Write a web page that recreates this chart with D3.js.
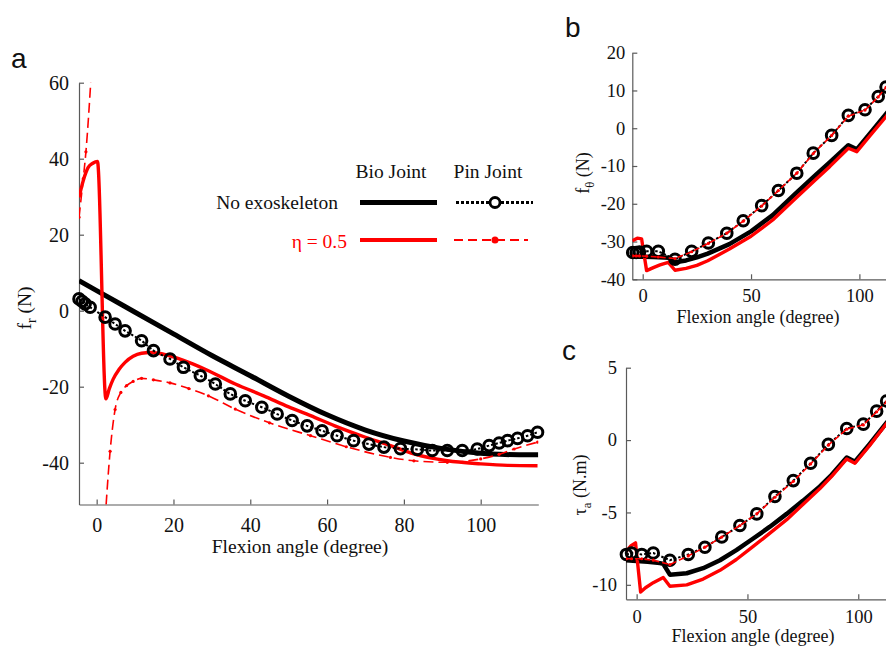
<!DOCTYPE html>
<html><head><meta charset="utf-8">
<script src="https://cdn.jsdelivr.net/npm/d3@7"></script>
<style>
body{margin:0;background:#fff}svg{display:block}
.serif{font-family:"Liberation Serif","DejaVu Serif","Noto Serif","Times New Roman",Times,serif}
.sans{font-family:"Liberation Sans",Arial,"DejaVu Sans",sans-serif}
</style>
</head><body><svg id="c" width="886" height="647"></svg>
<script>
// ---------- Panel a : f_r (N) ----------
const aTicksX = [0, 20, 40, 60, 80, 100];
const aTicksY = [-40, -20, 0, 20, 40, 60];
const aBioNoExoX = [-4.6, 0, 10, 20, 30, 40, 50, 60, 70, 80, 90, 100, 105, 110, 115];
const aBioNoExoY = [7.9, 5.3, -0.4, -6.1, -11.8, -17.1, -22.5, -27.4, -31.4, -34.3, -36.3, -37.5, -37.8, -37.9, -37.9];
const aPinNoExoX = [-4.6, -3.8, -3, -1.7, 2.2, 4.8, 7.4, 11.7, 14.8, 19.1, 22.6, 27, 30.9, 34.8, 38.7, 43, 47, 50.9, 54.8, 58.7, 62.6, 66.9, 70.9, 74.8, 79.1, 83.5, 87.4, 91.3, 95.2, 99.1, 102.2, 104.8, 107, 109.6, 112.2, 114.8];
const aPinNoExoY = [3.1, 2.5, 1.8, 0.9, -1.7, -3.5, -5.3, -7.9, -10.5, -12.7, -14.9, -17.1, -19.3, -21.9, -23.7, -25.4, -27.2, -28.9, -30.3, -31.6, -32.9, -34.2, -35.1, -35.9, -36.3, -36.5, -36.8, -36.8, -36.8, -36.4, -35.5, -34.8, -34.2, -33.6, -32.9, -32];
const aBioEtaX = [-4.6, -3.5, -2.2, -1, 0.2, 2.4, 3.3, 4.3, 5.8, 7.4, 9.5, 11.7, 14, 16.1, 20.4, 25, 29.1, 36.1, 43.5, 50, 55.7, 62, 70, 76.5, 82.6, 91.3, 100, 107, 114.8];
const aBioEtaY = [29.8, 34.2, 37.7, 38.8, 39.3, -23.2, -20.5, -18, -15.5, -13.6, -12, -11.2, -11, -11.2, -12.3, -14, -15.8, -19.3, -22.4, -25.3, -27.6, -30.3, -33.3, -35.5, -37.7, -39.5, -40.3, -40.7, -40.8];
const aPinEtaX = [-4.6, -3.5, -2.8, -1.4, 0.5, 2.2, 3.5, 4.8, 6.3, 7.8, 9.5, 11.7, 14.8, 19.1, 24, 29.1, 36.1, 45, 55.7, 65, 76.5, 82.6, 91.3, 100, 104.8, 108.7, 114.8];
const aPinEtaY = [24.6, 34.7, 41.8, 62.4, null, -55, -37, -26, -21.5, -19.7, -18.6, -17.8, -18.2, -19, -20.5, -22.4, -25.9, -29.5, -32.9, -35.8, -38.6, -39.5, -39.9, -39, -37.8, -36.4, -34.6];

// ---------- Panel b : f_theta (N) ----------
const bTicksX = [0, 50, 100];
const bTicksY = [-40, -30, -20, -10, 0, 10, 20];
const bBioNoExoX = [-4.8, 0, 5, 10, 12, 14.9, 20, 25, 30, 40, 50, 60, 70, 80, 86.4, 94.9, 98.8, 105, 112.3, 115];
const bBioNoExoY = [-34, -34, -34.1, -34.2, -34.3, -35.5, -35, -34.2, -33.2, -30.7, -27.3, -23, -17.6, -12.3, -9, -4.5, -5.6, -1.3, 3.8, 5.7];
const bBioEtaX = [-4.8, -2.5, -0.5, 1.8, 4.9, 8, 11.8, 14.9, 20, 25, 30, 40, 50, 60, 70, 80, 86.4, 94.9, 98.8, 105, 112.3, 115];
const bBioEtaY = [-29.8, -29.1, -29.3, -37.7, -36.9, -36.2, -35.5, -37.6, -37.1, -36.3, -35.1, -32, -28.6, -24.3, -18.9, -13.5, -10.1, -5.3, -6.2, -1.9, 3.1, 5.2];
const bPinNoExoX = [-4.6, -3, -1.5, 1.8, 7.2, 14.9, 22.6, 30.3, 38.8, 46.4, 54.9, 62.6, 71.1, 78.7, 87.2, 94.9, 102.6, 108.7, 112.3];
const bPinNoExoY = [-32.9, -32.9, -32.8, -32.6, -32.6, -34.7, -32.6, -30.4, -27.8, -24.5, -20.5, -16.5, -11.9, -6.6, -1.9, 3.4, 4.9, 8.4, 10.9];
const bPinEtaY = [-33.8, -33.8, -33.8, -33.9, -34.1, -34.5, -32.7, -30.5, -27.8, -24.6, -20.6, -16.5, -11.9, -6.7, -1.9, 3.2, 4.8, 8.3, 10.8];

// ---------- Panel c : tau_a (N.m) ----------
const cTicksX = [0, 50, 100];
const cTicksY = [-10, -5, 0, 5];
const cBioNoExoX = [-4.8, 0, 5, 10.5, 12, 15, 22.6, 30, 37.6, 45, 52.6, 60, 67.7, 75, 82.7, 88, 94.8, 98.5, 105, 112.8, 115];
const cBioNoExoY = [-8.3, -8.35, -8.4, -8.5, -8.55, -9.3, -9.2, -8.85, -8.3, -7.6, -6.8, -6.0, -5.1, -4.2, -3.2, -2.4, -1.2, -1.5, -0.3, 1.2, 1.6];
const cBioEtaX = [-4.8, -2.5, -0.5, 1.8, 4, 7.5, 12, 15, 22.6, 30, 37.6, 45, 52.6, 60, 67.7, 75, 82.7, 88, 94.8, 98.5, 105, 112.8, 115];
const cBioEtaY = [-7.7, -7.3, -7.1, -10.5, -10.2, -9.85, -9.5, -10.1, -10.0, -9.6, -9.0, -8.25, -7.35, -6.45, -5.5, -4.45, -3.35, -2.5, -1.3, -1.6, -0.4, 1.15, 1.6];
const cPinNoExoX = [-4.6, -2.3, 2.3, 7.5, 15, 23.3, 30.8, 38.4, 46.6, 54.2, 62.4, 70.7, 78.5, 86.5, 94.8, 102.3, 108.3, 112.8];
const cPinNoExoY = [-7.9, -7.8, -7.9, -7.8, -8.3, -7.9, -7.4, -6.7, -5.9, -5.1, -3.9, -2.8, -1.6, -0.3, 0.8, 1.1, 2.0, 2.7];
const cPinEtaY = [-8.2, -8.2, -8.2, -8.3, -8.6, -8.0, -7.4, -6.7, -5.9, -5.1, -3.95, -2.85, -1.65, -0.35, 0.75, 1.05, 1.95, 2.65];

// ---------- drawing ----------
const svg = d3.select('#c');
const RED = '#ff0000';
const AXIS = '#5a5a5a';
const fmt = d => (d < 0 ? '-' + Math.abs(d) : String(d));
const zip = (xs, ys) => xs.map((x, i) => [x, ys[i]]);

function drawPanel(p) {
  const x = d3.scaleLinear().domain(p.xDomain).range(p.xRange);
  const y = d3.scaleLinear().domain(p.yDomain).range(p.yRange);
  const clipId = 'clip-' + p.id;
  svg.append('clipPath').attr('id', clipId).append('rect')
    .attr('x', p.xRange[0]).attr('y', p.yRange[1])
    .attr('width', p.xRange[1] - p.xRange[0]).attr('height', p.yRange[0] - p.yRange[1]);

  const xa = d3.axisBottom(x).tickValues(p.xTicks).tickSizeInner(-5).tickSizeOuter(0).tickPadding(p.xPad).tickFormat(fmt);
  const ya = d3.axisLeft(y).tickValues(p.yTicks).tickSizeInner(-5).tickSizeOuter(0).tickPadding(p.yPad).tickFormat(fmt);
  const gx = svg.append('g').attr('transform', `translate(0,${p.yRange[0]})`).call(xa);
  const gy = svg.append('g').attr('transform', `translate(${p.xRange[0]},0)`).call(ya);
  [gx, gy].forEach(g => {
    g.attr('font-family', null).attr('font-size', null).attr('class', 'serif');
    g.selectAll('path,line').attr('stroke', AXIS).attr('stroke-width', 1.2);
    g.selectAll('text').attr('class', 'serif').style('font-size', p.fs + 'px').attr('fill', '#111');
  });

  const line = d3.line().defined(d => d[1] != null).curve(p.curve).x(d => x(d[0])).y(d => y(d[1]));
  const lg = svg.append('g').attr('clip-path', `url(#${clipId})`).attr('fill', 'none')
    .attr('stroke-linejoin', 'round');

  lg.append('path').datum(p.bioNoExo).attr('d', line).attr('stroke', '#000').attr('stroke-width', p.wBlack);
  lg.append('path').datum(p.bioEta).attr('d', line).attr('stroke', RED).attr('stroke-width', p.wRed);
  lg.append('path').datum(p.pinNoExo).attr('d', line).attr('stroke', '#000').attr('stroke-width', 2).attr('stroke-dasharray', '2.5,2');

  svg.append('g').selectAll('circle').data(p.pinNoExo).join('circle')
    .attr('cx', d => x(d[0])).attr('cy', d => y(d[1])).attr('r', p.r)
    .attr('fill', 'none').attr('stroke', '#000').attr('stroke-width', 3);

  const dg = svg.append('g').attr('clip-path', `url(#${clipId})`);
  dg.append('path').datum(p.pinEta).attr('d', line).attr('fill', 'none')
    .attr('stroke', RED).attr('stroke-width', 1.6).attr('stroke-dasharray', p.dash);
  dg.selectAll('circle').data(p.pinEta.filter(d => d[1] != null)).join('circle')
    .attr('cx', d => x(d[0])).attr('cy', d => y(d[1])).attr('r', 1.6).attr('fill', RED);

  // axis title
  svg.append('text').attr('x', p.xt[0]).attr('y', p.xt[1]).attr('text-anchor', 'middle')
    .attr('class', 'serif').style('font-size', p.fsTitle + 'px').attr('fill', '#111')
    .text('Flexion angle (degree)');
  // y title with subscript
  const yt = svg.append('text').attr('transform', `translate(${p.yt[0]},${p.yt[1]}) rotate(-90)`)
    .attr('text-anchor', 'middle').attr('class', 'serif').style('font-size', p.fsTitle + 'px').attr('fill', '#111');
  yt.append('tspan').text(p.ySym);
  yt.append('tspan').style('font-size', (p.fsTitle * 0.7) + 'px').attr('dy', 5).text(p.ySub);
  yt.append('tspan').attr('dy', -5).text(' ' + p.yUnit);
  // panel letter
  svg.append('text').attr('x', p.letterPos[0]).attr('y', p.letterPos[1])
    .attr('class', 'sans').style('font-size', '28px').attr('fill', '#111').text(p.letter);
}

drawPanel({
  id: 'a', letter: 'a', letterPos: [11, 68], curve: d3.curveMonotoneX, r: 5.3,
  xDomain: [-4.6, 115], xRange: [79, 538.3],
  yDomain: [-51, 60], yRange: [504.5, 82.7],
  xTicks: aTicksX, yTicks: aTicksY, xPad: 13, yPad: 10, fs: 20, fsTitle: 19.5,
  wBlack: 5, wRed: 3.4, dash: '10,5',
  bioNoExo: zip(aBioNoExoX, aBioNoExoY), bioEta: zip(aBioEtaX, aBioEtaY),
  pinNoExo: zip(aPinNoExoX, aPinNoExoY), pinEta: zip(aPinEtaX, aPinEtaY),
  xt: [300, 553], yt: [31, 308], ySym: 'f', ySub: 'r', yUnit: '(N)'
});
drawPanel({
  id: 'b', letter: 'b', letterPos: [565, 37], curve: d3.curveLinear, r: 5.3,
  xDomain: [-4.8, 115], xRange: [632.3, 891.9],
  yDomain: [-40, 20], yRange: [279.3, 52.7],
  xTicks: bTicksX, yTicks: bTicksY, xPad: 10, yPad: 7, fs: 18.5, fsTitle: 18,
  wBlack: 4.5, wRed: 3.4, dash: '6,3',
  bioNoExo: zip(bBioNoExoX, bBioNoExoY), bioEta: zip(bBioEtaX, bBioEtaY),
  pinNoExo: zip(bPinNoExoX, bPinNoExoY), pinEta: zip(bPinNoExoX, bPinEtaY),
  xt: [758, 323], yt: [589, 173], ySym: 'f', ySub: 'θ', yUnit: '(N)'
});
drawPanel({
  id: 'c', letter: 'c', letterPos: [562, 360], curve: d3.curveLinear, r: 5.3,
  xDomain: [-4.8, 115], xRange: [626, 891.5],
  yDomain: [-11, 5], yRange: [599.3, 367.7],
  xTicks: cTicksX, yTicks: cTicksY, xPad: 11, yPad: 9, fs: 18.5, fsTitle: 18,
  wBlack: 4.5, wRed: 3.4, dash: '6,3',
  bioNoExo: zip(cBioNoExoX, cBioNoExoY), bioEta: zip(cBioEtaX, cBioEtaY),
  pinNoExo: zip(cPinNoExoX, cPinNoExoY), pinEta: zip(cPinNoExoX, cPinEtaY),
  xt: [753, 642], yt: [586, 485], ySym: 'τ', ySub: 'a', yUnit: '(N.m)'
});

// ---------- legend (panel a) ----------
const leg = svg.append('g').attr('class', 'serif').style('font-size', '19.5px');
leg.append('text').attr('x', 391).attr('y', 178).attr('text-anchor', 'middle').attr('fill', '#111').text('Bio Joint');
leg.append('text').attr('x', 488).attr('y', 178).attr('text-anchor', 'middle').attr('fill', '#111').text('Pin Joint');
leg.append('text').attr('x', 338).attr('y', 209).attr('text-anchor', 'end').attr('fill', '#111').text('No exoskeleton');
leg.append('text').attr('x', 347).attr('y', 248).attr('text-anchor', 'end').attr('fill', RED).text('η = 0.5');
leg.append('line').attr('x1', 360).attr('x2', 437).attr('y1', 202.5).attr('y2', 202.5).attr('stroke', '#000').attr('stroke-width', 5);
leg.append('line').attr('x1', 456).attr('x2', 533).attr('y1', 202.5).attr('y2', 202.5).attr('stroke', '#000').attr('stroke-width', 3).attr('stroke-dasharray', '3,2');
leg.append('circle').attr('cx', 495).attr('cy', 202.5).attr('r', 5).attr('fill', '#fff').attr('stroke', '#000').attr('stroke-width', 2.8);
leg.append('line').attr('x1', 360).attr('x2', 437).attr('y1', 240).attr('y2', 240).attr('stroke', RED).attr('stroke-width', 4);
leg.append('line').attr('x1', 454).attr('x2', 528).attr('y1', 240).attr('y2', 240).attr('stroke', RED).attr('stroke-width', 2).attr('stroke-dasharray', '9,5');
leg.append('circle').attr('cx', 495).attr('cy', 240).attr('r', 3.5).attr('fill', RED);
</script></body></html>
